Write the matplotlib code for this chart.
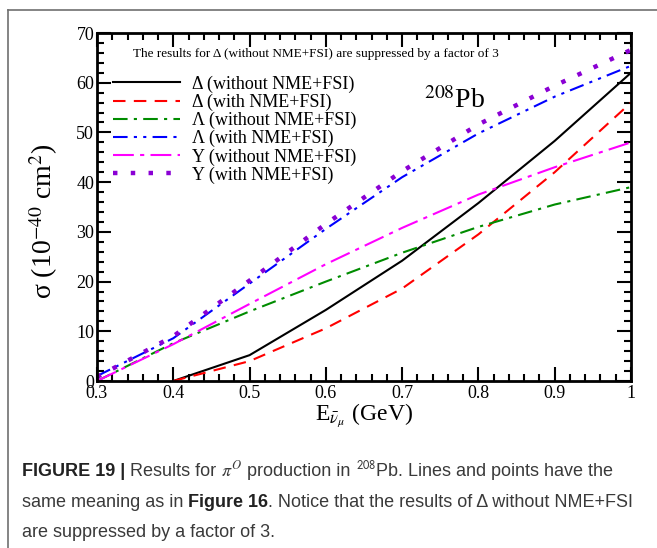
import matplotlib
matplotlib.use("Agg")
import matplotlib.pyplot as plt
from matplotlib.lines import Line2D
from matplotlib.ticker import MultipleLocator

# energies (GeV) and cross sections (10^-40 cm^2)
energy = [0.3, 0.4, 0.5, 0.6, 0.7, 0.8, 0.9, 1.0]
energy_delta = [0.4, 0.5, 0.6, 0.7, 0.8, 0.9, 1.0]

delta_without = [0.0, 5.2, 14.3, 24.2, 35.8, 48.3, 62.0]
delta_with = [0.0, 4.0, 10.6, 18.6, 29.5, 42.0, 56.0]
lambda_without = [0.0, 7.6, 14.0, 20.0, 25.8, 31.0, 35.5, 39.0]
lambda_with = [1.0, 8.6, 19.6, 30.6, 41.0, 49.8, 57.2, 63.4]
sigma_without = [0.0, 7.4, 15.5, 23.5, 30.8, 37.5, 43.0, 48.0]
sigma_with = [0.8, 9.0, 20.2, 31.6, 42.2, 51.6, 59.4, 66.6]

labels = ["Δ (without NME+FSI)", "Δ (with NME+FSI)",
          "Λ (without NME+FSI)", "Λ (with NME+FSI)",
          "Y (without NME+FSI)", "Y (with NME+FSI)"]

plt.rcParams['font.family'] = ['Liberation Serif', 'DejaVu Serif']
plt.rcParams['mathtext.fontset'] = 'stix'

fig = plt.figure(figsize=(6.57, 5.48), dpi=100)
ax = fig.add_axes([97 / 657, 1 - 381 / 548, 534 / 657, 348 / 548])

ax.plot(energy_delta, delta_without, color='black', lw=1.5, label=labels[0])
ax.plot(energy_delta, delta_with, color='red', lw=1.5, dashes=(6, 4), label=labels[1])
ax.plot(energy, lambda_without, color='#008c00', lw=1.5, dashes=(7, 3, 1.5, 3), label=labels[2])
ax.plot(energy, lambda_with, color='blue', lw=1.5, dashes=(7, 3, 1.5, 3, 1.5, 3), label=labels[3])
ax.plot(energy, sigma_without, color='magenta', lw=1.5, dashes=(10, 3, 2, 3), label=labels[4])
ax.plot(energy, sigma_with, color='#8a00d4', lw=3.2, dashes=(1, 3), label=labels[5])

ax.set_xlim(0.3, 1.0)
ax.set_ylim(0, 70)
ax.xaxis.set_major_locator(MultipleLocator(0.1))
ax.xaxis.set_minor_locator(MultipleLocator(0.02))
ax.yaxis.set_major_locator(MultipleLocator(10))
ax.yaxis.set_minor_locator(MultipleLocator(2))
ax.set_xticks([0.3, 0.4, 0.5, 0.6, 0.7, 0.8, 0.9, 1.0])
ax.set_xticklabels(['0.3', '0.4', '0.5', '0.6', '0.7', '0.8', '0.9', '1'])
ax.tick_params(which='both', direction='in', top=True, right=True, width=1.5, labelsize=13)
ax.tick_params(axis='y', pad=2)
ax.tick_params(axis='x', pad=3)
ax.tick_params(which='major', length=10)
ax.tick_params(which='minor', length=5)
for s in ax.spines.values():
    s.set_linewidth(2)

ax.set_ylabel(r"σ (10$^{-40}$ cm$^{2}$)", fontsize=20, labelpad=2)
ax.yaxis.set_label_coords(-0.07, 0.46)
ax.set_xlabel(r"E$_{\bar{\nu}_{\mu}}$ (GeV)", fontsize=17, labelpad=0)

ax.text(0.41, 0.94, "The results for Δ (without NME+FSI) are suppressed by a factor of 3",
        transform=ax.transAxes, ha='center', va='center', fontsize=9.5)
ax.text(0.67, 0.805, r"$^{208}$Pb", transform=ax.transAxes, ha='center', va='center', fontsize=20)

ax.legend(loc='upper left', bbox_to_anchor=(0.03, 0.878), frameon=False, fontsize=13,
          handlelength=3.7, handletextpad=0.65, labelspacing=0.05, borderpad=0, borderaxespad=0)

# frame around figure + caption
fy = 1 - 10 / 548
fx = 8 / 657
fig.add_artist(Line2D([fx, fx], [0, fy], color='#707070', lw=1.2))
fig.add_artist(Line2D([fx, 1], [fy, fy], color='#707070', lw=1.2))

# caption with mixed bold / normal pieces
renderer = fig.canvas.get_renderer()
cap = dict(family='Liberation Sans', fontsize=13, color='#3a3a3a', va='baseline')


def text_width(s, **kw):
    t = fig.text(0, 0, s, **kw)
    w = t.get_window_extent(renderer=renderer).width
    t.remove()
    return w


space = text_width("x x", **cap) - text_width("xx", **cap)


def caption_line(pieces, y):
    x = 22
    for s, extra, gap in pieces:
        kw = dict(cap)
        kw.update(extra)
        t = fig.text(x / 657, 1 - y / 548, s, **kw)
        x += t.get_window_extent(renderer=renderer).width + (space if gap else 0)


bold = dict(weight='bold', color='#222222')
caption_line([("FIGURE 19 |", bold, True), ("Results for", {}, True),
              (r"$\pi^{O}$", dict(math_fontfamily='stix'), True),
              ("production in", {}, True),
              (r"$^{208}$Pb. Lines and points have the", dict(math_fontfamily='stixsans'), False)], 476)
caption_line([("same meaning as in", {}, True), ("Figure 16", bold, False),
              (". Notice that the results of Δ without NME+FSI", {}, False)], 507)
caption_line([("are suppressed by a factor of 3.", {}, False)], 537)

fig.savefig("out.png", dpi=100)
